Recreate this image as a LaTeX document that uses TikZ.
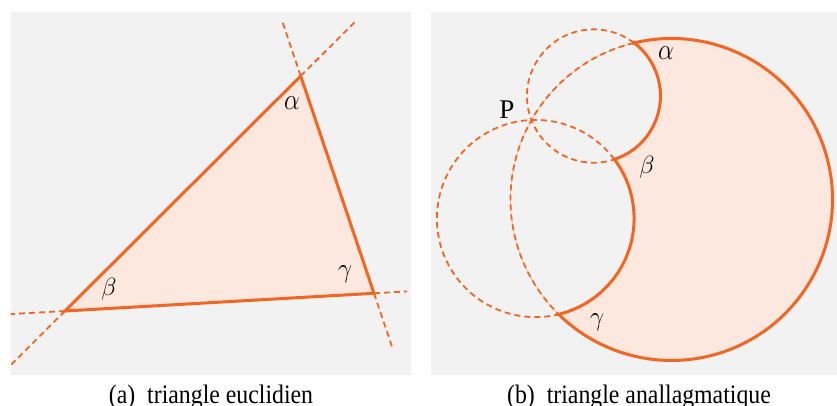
\documentclass[tikz,border=0pt]{standalone}
\usepackage{fontspec}
\setmainfont{Liberation Serif}
\usetikzlibrary{calc}
\definecolor{orng}{HTML}{F26522}
\definecolor{peach}{HTML}{FCE8DE}
\definecolor{panel}{HTML}{F2F2F2}
\definecolor{faint}{HTML}{F6B896}
\newcommand{\capstretch}[1]{\scalebox{1}[1.12]{#1}}
\tikzset{
  solidedge/.style={draw=orng, line width=3pt, line join=miter},
  dashedge/.style={draw=orng, line width=1.8pt, dash pattern=on 6pt off 4pt},
  lbl/.style={inner sep=0pt, font=\fontsize{27}{32}\selectfont},
  captext/.style={inner sep=0pt, anchor=base, font=\fontsize{23.8}{28}\selectfont}
}
\begin{document}
\begin{tikzpicture}[x=1pt,y=1pt]
\useasboundingbox (0,0) rectangle (837,406);
% panels
\fill[panel] (11,31.3) rectangle (410.7,394);
\fill[panel] (431,31.3) rectangle (837,394);
% ---------- (a) euclidean triangle
\coordinate (A) at (300.7,330);
\coordinate (B) at (65,95);
\coordinate (C) at (374,112.7);
\fill[peach] (A) -- (B) -- (C) -- cycle;
\draw[dashedge] (A) -- ($(B)!1.235!(A)$);
\draw[dashedge] (A) -- ($(C)!1.254!(A)$);
\draw[dashedge] (B) -- ($(A)!1.229!(B)$);
\draw[dashedge] (B) -- ($(C)!1.175!(B)$);
\draw[dashedge] (C) -- ($(B)!1.107!(C)$);
\draw[dashedge] (C) -- ($(A)!1.247!(C)$);
\draw[solidedge] (A) -- (B) -- (C) -- cycle;
\node[lbl] (la) at (292,303) {\scalebox{1}[1.2]{$\alpha$}};
\node[lbl] (lb) at (109,117) {$\beta$};
\node[lbl] (lc) at (345,132) {\scalebox{1}[1.1]{$\gamma$}};
\node[captext] (capa) at (211,2.5) {\capstretch{(a)\enspace triangle euclidien}};
% ---------- (b) anallagmatic triangle
\coordinate (O0) at (671.5,206.5);
\coordinate (O1) at (593.7,310);
\coordinate (O2) at (535.5,187.5);
\coordinate (P) at (531.5,286);
\coordinate (Al) at ($(O0)+(103.47:161)$);
\coordinate (Be) at ($(O1)+(-71.92:66.7)$);
\coordinate (Ga) at ($(O0)+(-134.52:161)$);
\fill[peach] (Al) arc[start angle=103.47, end angle=-134.52, radius=161]
  arc[start angle=-76.44, end angle=36.84, radius=98.6]
  arc[start angle=-71.92, end angle=52.80, radius=66.7] -- cycle;
\draw[faint, line width=0.6pt] (Al) arc[start angle=103.47, end angle=225.48, radius=161];
\draw[dashedge] (Al) arc[start angle=103.47, end angle=225.48, radius=161];
\draw[dashedge] (Al) arc[start angle=52.80, end angle=288.08, radius=66.7];
\draw[dashedge] (Be) arc[start angle=36.84, end angle=283.56, radius=98.6];
\draw[solidedge] (Al) arc[start angle=103.47, end angle=-134.52, radius=161]
  arc[start angle=-76.44, end angle=36.84, radius=98.6]
  arc[start angle=-71.92, end angle=52.80, radius=66.7] -- cycle;
\node[lbl] (ra) at (666,353) {\scalebox{1}[1.2]{$\alpha$}};
\node[lbl] (rb) at (647,239) {$\beta$};
\node[lbl] (rc) at (597,84) {\scalebox{1}[1.1]{$\gamma$}};
\node[lbl] (rp) at (507,296) {P};
\node[captext] (capb) at (639,2.5) {\capstretch{(b)\enspace triangle anallagmatique}};
\end{tikzpicture}
\end{document}
